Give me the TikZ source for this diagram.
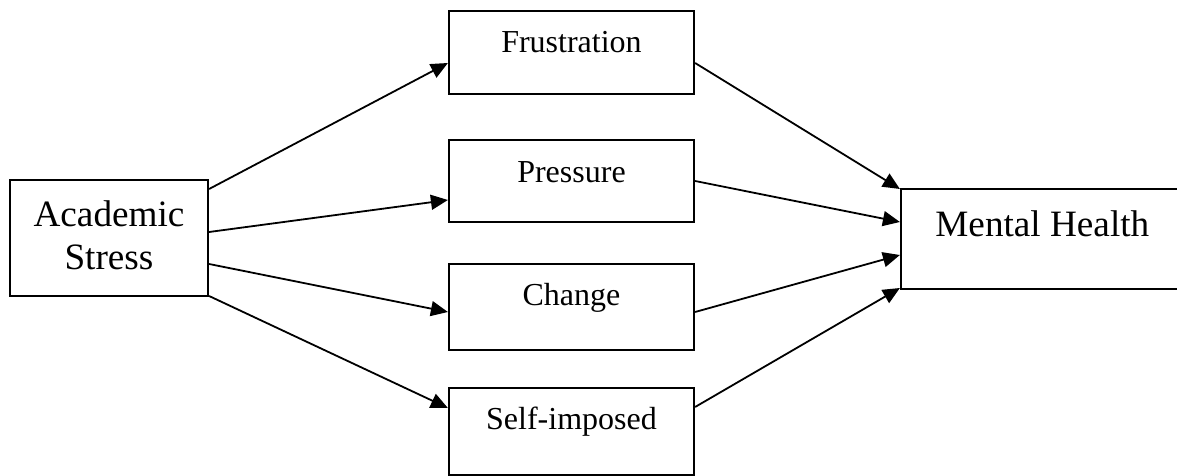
\documentclass[tikz,border=0pt]{standalone}
\usepackage{fontspec}
\setmainfont{Liberation Serif}
\usetikzlibrary{arrows.meta,fit}
\tikzset{
  box/.style={draw, line width=1.1bp, inner sep=0pt, fill=none},
  small/.style={font=\fontsize{16bp}{19bp}\selectfont, inner sep=0pt, anchor=base},
  big/.style={font=\fontsize{18.6bp}{21.5bp}\selectfont, inner sep=0pt, anchor=base},
  conn/.style={line width=0.9bp, -{Triangle[length=8.5bp,width=7.5bp]}}
}
\begin{document}
\begin{tikzpicture}[x=0.5bp,y=-0.5bp]
\useasboundingbox (0,0) rectangle (1177,476);
\clip (0,0) rectangle (1177,476);
% boxes
\node[box, fit={(10,180) (208,296)}] (as) {};
\node[box, fit={(449,11) (694,94)}] (fr) {};
\node[box, fit={(449,140) (694,222)}] (pr) {};
\node[box, fit={(449,264) (694,350)}] (ch) {};
\node[box, fit={(449,388) (694,475)}] (si) {};
\node[box, fit={(901,189) (1200,289)}] (mh) {};
% texts
\node[big] (ast1) at (109,227) {Academic};
\node[big] (ast2) at (109,270) {Stress};
\node[small] (frt) at (571.5,53) {Frustration};
\node[small] (prt) at (571.5,183) {Pressure};
\node[small] (cht) at (571.5,306) {Change};
\node[small] (sit) at (571.5,429) {Self-imposed};
\node[big, anchor=base west] (mht) at (935,237) {Mental Health};
% connectors left
\draw[conn] (as.east |- 0,189) -- (fr.west |- 0,63);
\draw[conn] (as.east |- 0,232) -- (pr.west |- 0,200);
\draw[conn] (as.east |- 0,264) -- (ch.west |- 0,312);
\draw[conn] (as.east |- 0,296) -- (si.west |- 0,408);
% connectors right
\draw[conn] (fr.east |- 0,63) -- (mh.west |- 0,189);
\draw[conn] (pr.east |- 0,181) -- (mh.west |- 0,222);
\draw[conn] (ch.east |- 0,312) -- (mh.west |- 0,255);
\draw[conn] (si.east |- 0,407) -- (mh.west |- 0,288);
\end{tikzpicture}
\end{document}
